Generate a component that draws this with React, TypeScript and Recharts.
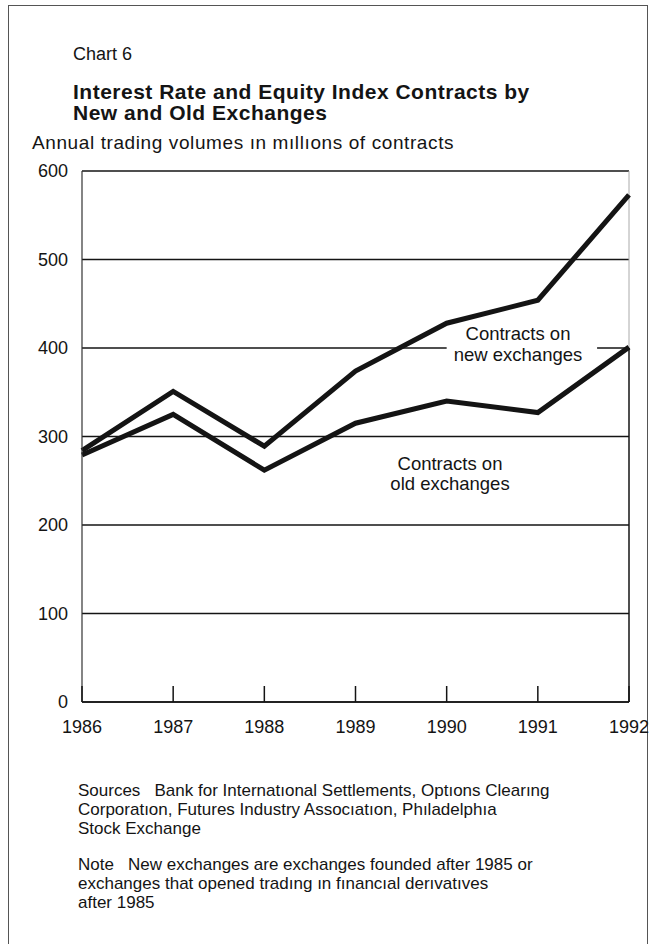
import {
  LineChart,
  Line,
  XAxis,
  YAxis,
  CartesianGrid,
  ReferenceArea,
  ReferenceLine,
} from "recharts";

const years = [1986, 1987, 1988, 1989, 1990, 1991, 1992];
const newExchanges = [284, 351, 289, 374, 428, 454, 573];
const oldExchanges = [279, 325, 262, 315, 340, 327, 401];
const yTicks = [0, 100, 200, 300, 400, 500, 600];

const data = years.map((year, i) => ({
  year,
  newEx: newExchanges[i],
  oldEx: oldExchanges[i],
}));

const font = "'Liberation Sans', Arial, Helvetica, sans-serif";
const ink = "#141414";

function YearTick(props: any) {
  const { x, y, payload } = props;
  return (
    <g>
      <line x1={x} x2={x} y1={y} y2={y - 16} stroke={ink} strokeWidth={1.5} />
      <text x={x} y={y + 31} textAnchor="middle" fontSize={18} fill={ink} fontFamily={font}>
        {payload.value}
      </text>
    </g>
  );
}

function Note({ top, left, size, children, bold, center, width, lh, ls }: any) {
  return (
    <div
      style={{
        position: "absolute",
        top,
        left,
        width,
        fontSize: size,
        lineHeight: (lh || size + 2) + "px",
        letterSpacing: ls || 0,
        fontWeight: bold ? 700 : 400,
        textAlign: center ? "center" : "left",
        whiteSpace: "pre",
        color: ink,
      }}
    >
      {children}
    </div>
  );
}

export default function App() {
  return (
    <div
      style={{
        position: "absolute",
        left: 0,
        top: 0,
        width: 652,
        height: 944,
        background: "#fff",
        fontFamily: font,
        overflow: "hidden",
      }}
    >
      <div
        style={{
          position: "absolute",
          left: 8,
          top: 5,
          width: 640,
          height: 960,
          border: "1px solid #555",
          boxSizing: "border-box",
        }}
      />

      <Note top={44} left={73} size={18}>Chart 6</Note>
      <Note top={81} left={73} size={21} lh={21} ls={0.5} bold>
        {"Interest Rate and Equity Index Contracts by\nNew and Old Exchanges"}
      </Note>
      <Note top={132} left={32} size={19} ls={0.6}>Annual trading volumes ın mıllıons of contracts</Note>

      <div style={{ position: "absolute", left: 0, top: 0 }}>
        <LineChart
          width={652}
          height={760}
          data={data}
          margin={{ top: 171, right: 23, bottom: 18, left: 0 }}
        >
          <CartesianGrid horizontal vertical={false} stroke={ink} strokeWidth={1.4} />
          <ReferenceArea x1={1990.0} x2={1991.65} y1={394} y2={406} fill="#fff" fillOpacity={1} stroke="none" />
          <ReferenceLine segment={[{ x: 1992, y: 0 }, { x: 1992, y: 400 }]} stroke={ink} strokeWidth={1.5} />
          <ReferenceLine segment={[{ x: 1992, y: 400 }, { x: 1992, y: 600 }]} stroke="#aaa" strokeWidth={1} />
          <XAxis
            dataKey="year"
            type="number"
            domain={[1986, 1992]}
            ticks={years}
            height={40}
            tickSize={0}
            tickMargin={0}
            tickLine={false}
            axisLine={{ stroke: ink, strokeWidth: 1.5 }}
            tick={<YearTick />}
          />
          <YAxis
            domain={[0, 600]}
            ticks={yTicks}
            width={82}
            tickSize={0}
            tickMargin={14}
            tickLine={false}
            axisLine={{ stroke: "#333", strokeWidth: 1.2 }}
            tick={{ fill: ink, fontSize: 18, fontFamily: font }}
          />
          <Line
            dataKey="newEx"
            stroke={ink}
            strokeWidth={5}
            strokeLinejoin="miter"
            dot={false}
            isAnimationActive={false}
          />
          <Line
            dataKey="oldEx"
            stroke={ink}
            strokeWidth={5}
            strokeLinejoin="miter"
            dot={false}
            isAnimationActive={false}
          />
        </LineChart>
      </div>

      <Note top={323} left={418} width={200} size={18.5} lh={21} center>
        {"Contracts on\nnew exchanges"}
      </Note>
      <Note top={454} left={350} width={200} size={18.5} lh={20} center>
        {"Contracts on\nold exchanges"}
      </Note>

      <Note top={781} left={78} size={17}>
        {"Sources   Bank for Internatıonal Settlements, Optıons Clearıng\nCorporatıon, Futures Industry Assocıatıon, Phıladelphıa\nStock Exchange"}
      </Note>
      <Note top={855} left={78} size={17}>
        {"Note   New exchanges are exchanges founded after 1985 or\nexchanges that opened tradıng ın fınancıal derıvatıves\nafter 1985"}
      </Note>
    </div>
  );
}
